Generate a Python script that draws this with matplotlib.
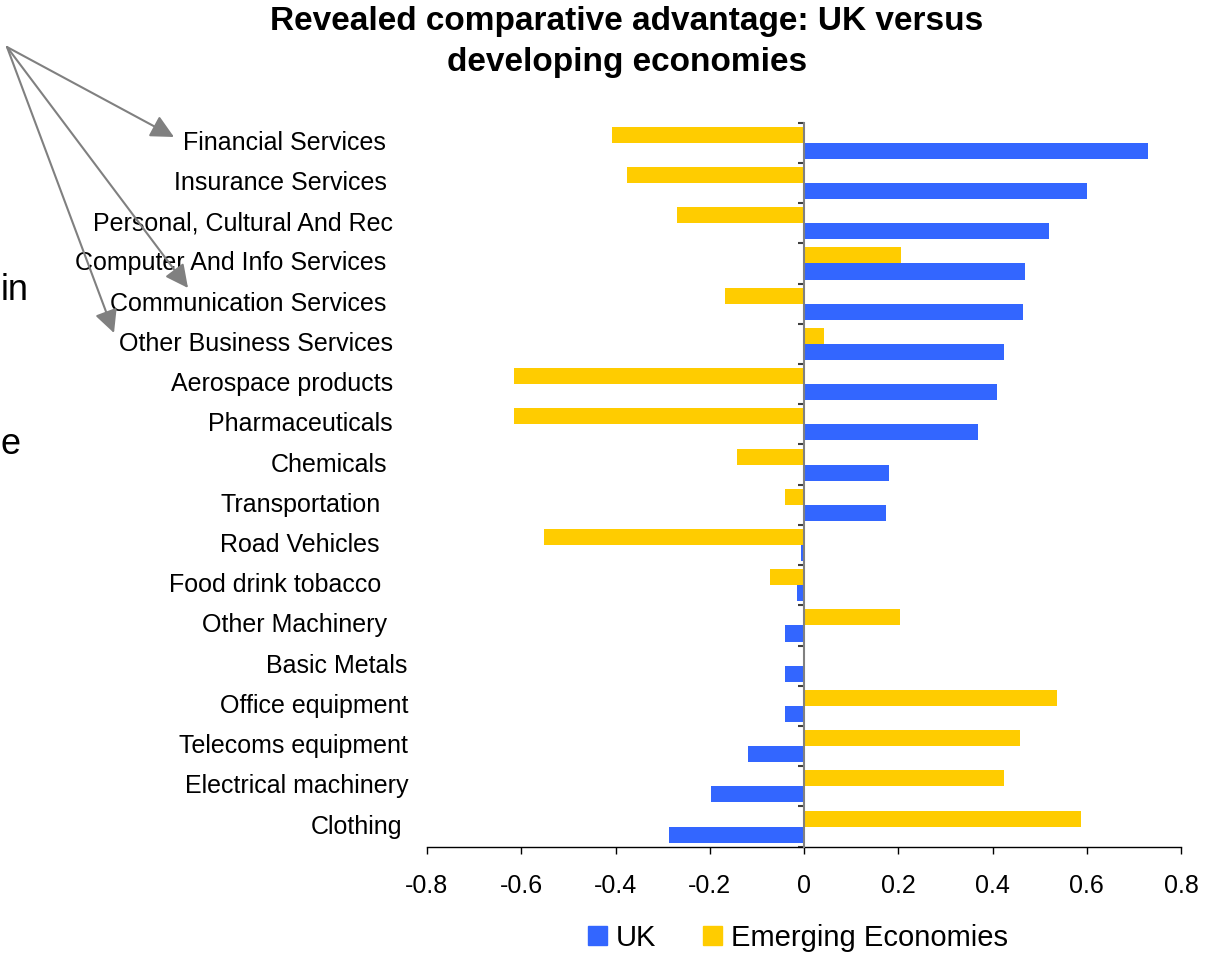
import matplotlib
matplotlib.use("Agg")
import matplotlib.pyplot as plt
from matplotlib.patches import Patch, FancyArrowPatch
from matplotlib.transforms import blended_transform_factory

plt.rcParams["font.family"] = ["Liberation Sans", "DejaVu Sans"]

# sektor, dari atas ke bawah
sectors = [
    "Financial Services", "Insurance Services", "Personal, Cultural And Rec",
    "Computer And Info Services", "Communication Services", "Other Business Services",
    "Aerospace products", "Pharmaceuticals", "Chemicals", "Transportation",
    "Road Vehicles", "Food drink tobacco", "Other Machinery", "Basic Metals",
    "Office equipment", "Telecoms equipment", "Electrical machinery", "Clothing",
]
uk = [0.73, 0.60, 0.52, 0.47, 0.465, 0.425, 0.41, 0.37, 0.18, 0.175,
      -0.006, -0.014, -0.04, -0.04, -0.04, -0.118, -0.197, -0.286]
emerging = [-0.407, -0.375, -0.27, 0.205, -0.168, 0.042, -0.616, -0.616, -0.143, -0.04,
            -0.551, -0.073, 0.204, 0.0, 0.537, 0.458, 0.425, 0.588]
xticks = [-0.8, -0.6, -0.4, -0.2, 0, 0.2, 0.4, 0.6, 0.8]

# ujung kanan tiap label (piksel), labelnya tidak rata
label_right = [386, 387, 393, 386, 386, 393, 393, 393, 387, 381,
               380, 381, 387, 407, 408, 408, 408, 402]

blue = "#3366FF"
yellow = "#FFCC00"
W, H = 1214, 956

fig = plt.figure(figsize=(W / 100, H / 100), dpi=100)
ax = fig.add_axes([427 / W, 1 - 846.7 / H, (1181 - 427) / W, (846.7 - 122.7) / H])

pos = list(range(len(sectors)))
ax.barh([p - 0.2 for p in pos], emerging, height=0.4, color=yellow, zorder=2)
ax.barh([p + 0.2 for p in pos], uk, height=0.4, color=blue, zorder=2)

ax.set_xlim(-0.8, 0.8)
ax.set_ylim(len(sectors) - 0.5, -0.5)

ax.spines["top"].set_visible(False)
ax.spines["right"].set_visible(False)
ax.spines["left"].set_position(("data", 0))
ax.spines["left"].set_color("#808080")
ax.spines["left"].set_linewidth(1.5)
ax.spines["left"].set_zorder(3)
ax.spines["bottom"].set_color("black")
ax.spines["bottom"].set_linewidth(1.0)

ax.set_xticks(xticks)
ax.set_xticklabels([f"{v:g}" for v in xticks], fontsize=18)
ax.tick_params(axis="x", direction="out", length=5, width=1, pad=15)
ax.set_yticks([p - 0.5 for p in pos] + [len(sectors) - 0.5])
ax.set_yticklabels([])
ax.tick_params(axis="y", direction="out", length=4.5, width=1.5, color="#404040")

tr = blended_transform_factory(fig.transFigure, ax.transData)
for p, name, xr in zip(pos, sectors, label_right):
    ax.text(xr / W, p, name, transform=tr, ha="right", va="center", fontsize=18,
            color="black", clip_on=False)

fig.text(627 / W, 1 - 42 / H, "Revealed comparative advantage: UK versus\ndeveloping economies",
         ha="center", va="center", fontsize=24, fontweight="bold", linespacing=1.45)

# potongan teks di tepi kiri
fig.text(1 / W, 1 - 290 / H, "in", ha="left", va="center", fontsize=26)
fig.text(1 / W, 1 - 445 / H, "e", ha="left", va="center", fontsize=26)

# panah penunjuk ke sektor jasa
start = (7 / W, 1 - 47 / H)
for tx, ty in [(174, 137), (188, 288), (114, 333)]:
    fig.add_artist(FancyArrowPatch(
        start, (tx / W, 1 - ty / H), transform=fig.transFigure,
        arrowstyle="-|>,head_length=10,head_width=5", mutation_scale=1.4,
        color="#808080", linewidth=1.5, shrinkA=0, shrinkB=0))

handles = [Patch(color=blue, label="UK"), Patch(color=yellow, label="Emerging Economies")]
fig.legend(handles=handles, loc="center", bbox_to_anchor=(798 / W, 1 - 938 / H), ncol=2,
           frameon=False, fontsize=21, handlelength=0.65, handleheight=0.65,
           handletextpad=0.3, columnspacing=1.6, borderpad=0)

fig.savefig("out.png", dpi=100)
